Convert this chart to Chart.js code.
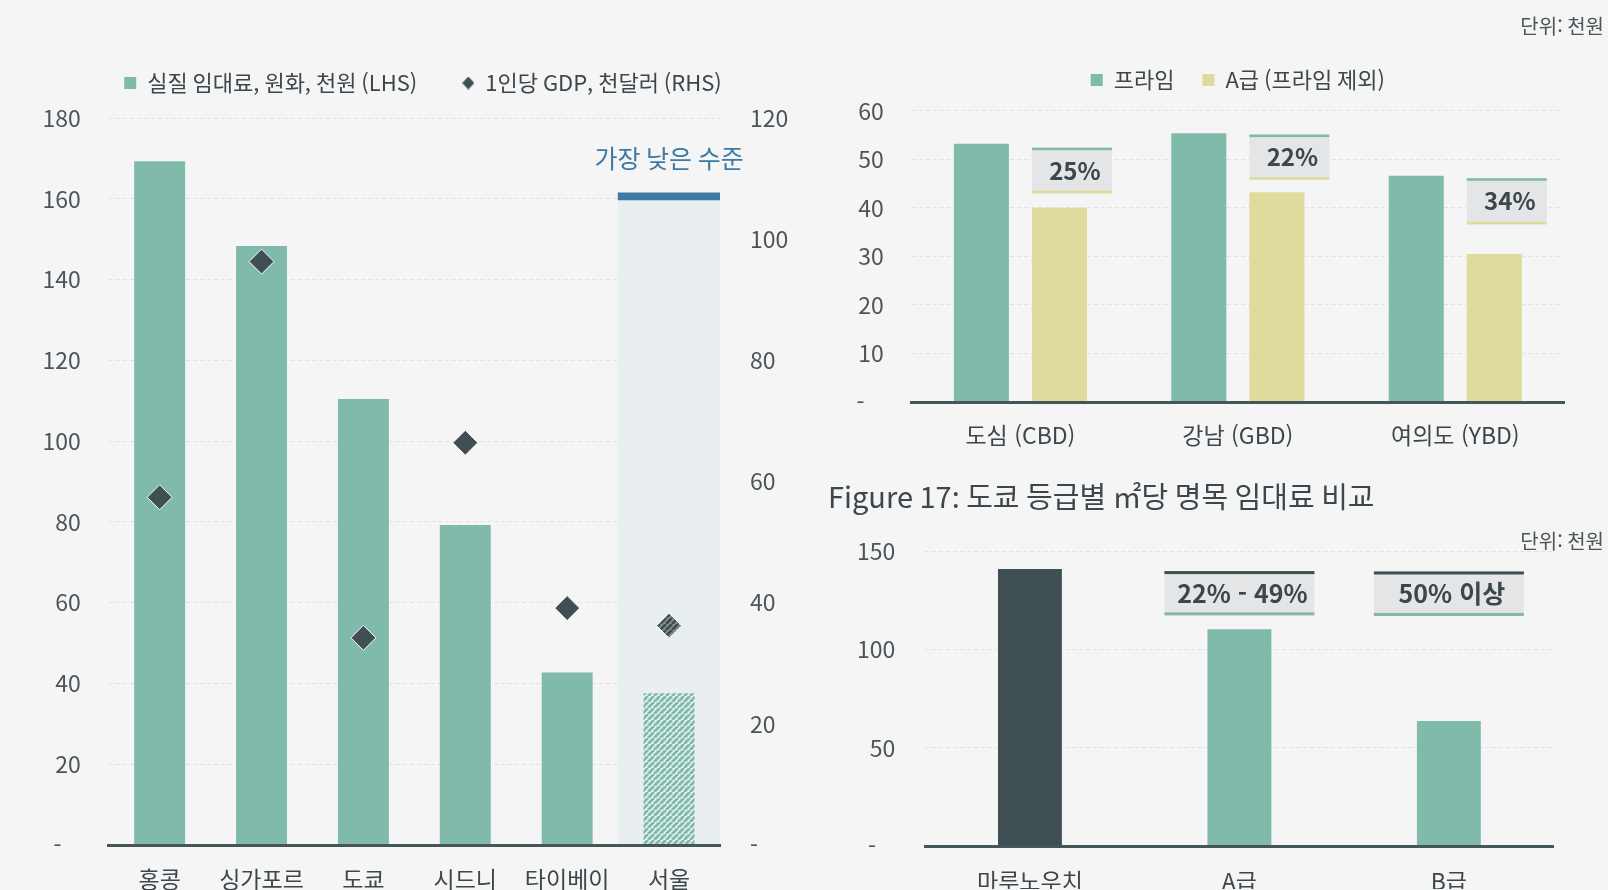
<!DOCTYPE html>
<html lang="ko">
<head>
<meta charset="utf-8">
<script src="https://cdn.jsdelivr.net/npm/chart.js@4.4.1/dist/chart.umd.min.js"></script>
<style>
  html, body { margin: 0; padding: 0; background: #f5f5f5; }
  body { width: 1608px; height: 890px; position: relative; overflow: hidden; }
  .panel { position: absolute; }
</style>
</head>
<body>
<div class="panel" style="left:0;top:0;width:846px;height:890px"><canvas id="chartRent"></canvas></div>
<div class="panel" style="left:800px;top:0;width:808px;height:460px"><canvas id="chartSeoul"></canvas></div>
<div class="panel" style="left:800px;top:460px;width:808px;height:430px"><canvas id="chartTokyo"></canvas></div>
<script>
// 도시별 실질 임대료 / 1인당 GDP
const cities = ['홍콩', '싱가포르', '도쿄', '시드니', '타이베이', '서울'];
const realRent = [169.3, 148.3, 110.4, 79.2, 42.7, 37.6];
const gdpPerCapita = [57.4, 96.3, 34.2, 66.4, 39.1, 36.2];
const seoulBand = [null, null, null, null, null, [0, 159.7]];
const seoulCap = [null, null, null, null, null, [159.7, 161.5]];

// 서울 권역별 프라임 / A급
const districts = ['도심 (CBD)', '강남 (GBD)', '여의도 (YBD)'];
const primeRent = [53.2, 55.4, 46.6];
const gradeARent = [40.0, 43.2, 30.5];
const gapLabels = ['25%', '22%', '34%'];
const gapTop = [52.4, 55.1, 46.1];
const gapBottom = [43.0, 45.8, 36.6];

// 도쿄 등급별
const tokyoGrades = ['마루노우치', 'A급', 'B급'];
const tokyoRent = [140.8, 110.3, 63.6];
const tokyoGapLabels = [null, '22% - 49%', '50% 이상'];
const tokyoGapTop = [null, 139.8, 139.6];
const tokyoGapBottom = [null, 117.3, 117.0];

const TEAL = '#7fbaab';
const SAND = '#dfdb9d';
const SLATE = '#3f4f54';
const BLUE = '#3d7aa5';
const INK = '#3b474c';
const TICK = '#4b5559';
const GRID = '#e2e2e2';
const FONT = "'Noto Sans CJK KR', 'Noto Sans', sans-serif";

Chart.defaults.font.family = FONT;
Chart.defaults.color = TICK;
Chart.defaults.animation = false;

function stripes(ctx, fg, bg, size, width) {
    const c = document.createElement('canvas');
    c.width = size;
    c.height = size;
    const g = c.getContext('2d');
    g.fillStyle = bg;
    g.fillRect(0, 0, size, size);
    g.strokeStyle = fg;
    g.lineWidth = width;
    g.beginPath();
    for (let k = -1; k <= 1; k++) {
        g.moveTo(k * size, size);
        g.lineTo(k * size + size, 0);
    }
    g.stroke();
    return ctx.createPattern(c, 'repeat');
}

// little diamond for the legend
const legendDiamond = document.createElement('canvas');
legendDiamond.width = 12;
legendDiamond.height = 13;
(function (g) {
    g.fillStyle = SLATE;
    g.beginPath();
    g.moveTo(6, 0); g.lineTo(12, 6.5); g.lineTo(6, 13); g.lineTo(0, 6.5);
    g.closePath();
    g.fill();
})(legendDiamond.getContext('2d'));

function zeroDash(spaces) {
    return v => v === 0 ? '-' + spaces : v;
}

function unitNote(y) {
    return {
        id: 'unitNote',
        afterDraw(chart) {
            const c = chart.ctx;
            c.save();
            c.font = '20px ' + FONT;
            c.fillStyle = TICK;
            c.textAlign = 'right';
            c.textBaseline = 'middle';
            c.fillText('단위: 천원', chart.width - 4, y);
            c.restore();
        }
    };
}

function drawGapBox(chart, left, width, top, bottom, topColor, bottomColor, text, lw, size) {
    const c = chart.ctx;
    c.save();
    c.fillStyle = '#e4e5e6';
    c.fillRect(left, top, width, bottom - top);
    c.fillStyle = topColor;
    c.fillRect(left, top, width, lw);
    c.fillStyle = bottomColor;
    c.fillRect(left, bottom - lw, width, lw);
    c.font = 'bold ' + size + 'px ' + FONT;
    c.fillStyle = INK;
    c.textAlign = 'center';
    c.textBaseline = 'middle';
    c.fillText(text, left + width / 2 + 3, (top + bottom) / 2);
    c.restore();
}

// ---------- 왼쪽: 도시별 ----------
const rentCtx = document.getElementById('chartRent').getContext('2d');
const rentHatch = stripes(rentCtx, TEAL, '#eef4f2', 6, 3);
const gdpHatch = stripes(rentCtx, SLATE, '#8d979a', 6, 3);

const lowestNote = {
    id: 'lowestNote',
    afterDatasetsDraw(chart) {
        const c = chart.ctx;
        const x = chart.scales.x.getPixelForValue(5);
        const y = chart.scales.y.getPixelForValue(seoulCap[5][1]);
        c.save();
        c.font = '25px ' + FONT;
        c.fillStyle = BLUE;
        c.textAlign = 'center';
        c.textBaseline = 'middle';
        c.fillText('가장 낮은 수준', x, y - 34);
        c.restore();
    }
};

new Chart(rentCtx, {
    type: 'bar',
    data: {
        labels: cities,
        datasets: [{
            label: '실질 임대료, 원화, 천원 (LHS)',
            data: realRent,
            backgroundColor: [TEAL, TEAL, TEAL, TEAL, TEAL, rentHatch],
            barPercentage: 0.5,
            categoryPercentage: 1,
            grouped: false,
            order: 2
        }, {
            type: 'line',
            label: '1인당 GDP, 천달러 (RHS)',
            data: gdpPerCapita,
            yAxisID: 'y1',
            showLine: false,
            pointStyle: 'rectRot',
            pointRadius: 12.5,
            pointHoverRadius: 12.5,
            pointBackgroundColor: [SLATE, SLATE, SLATE, SLATE, SLATE, gdpHatch],
            pointBorderColor: '#ffffff',
            pointBorderWidth: 1,
            order: 0
        }, {
            label: 'cap',
            data: seoulCap,
            backgroundColor: BLUE,
            barPercentage: 1,
            categoryPercentage: 1,
            grouped: false,
            order: 3
        }, {
            label: 'band',
            data: seoulBand,
            backgroundColor: '#e9eef1',
            barPercentage: 1,
            categoryPercentage: 1,
            grouped: false,
            order: 4
        }]
    },
    options: {
        responsive: true,
        maintainAspectRatio: false,
        layout: { padding: { top: 27, left: 0, right: 0, bottom: 0 } },
        plugins: {
            legend: {
                labels: {
                    usePointStyle: true,
                    boxWidth: 12,
                    boxHeight: 12,
                    padding: 45,
                    color: INK,
                    font: { size: 22 },
                    generateLabels(chart) {
                        const items = Chart.defaults.plugins.legend.labels.generateLabels(chart)
                            .filter(it => it.datasetIndex < 2)
                            .sort((a, b) => a.datasetIndex - b.datasetIndex);
                        items[0].pointStyle = 'rect';
                        items[0].fillStyle = TEAL;
                        items[0].lineWidth = 0;
                        items[1].pointStyle = legendDiamond;
                        return items;
                    }
                }
            },
            subtitle: {
                display: true,
                text: '',
                weight: 500,
                font: { size: 1, lineHeight: 1 },
                padding: { top: 0, bottom: 13 }
            },
            tooltip: { enabled: false }
        },
        scales: {
            x: {
                offset: true,
                grid: { display: false },
                border: { color: '#46555a', width: 3, z: 1 },
                ticks: { padding: 12, color: INK, font: { size: 23 } },
                afterFit: s => { s.height = 45; }
            },
            y: {
                min: 0,
                max: 180,
                grid: { color: GRID, drawTicks: false },
                border: { display: false, dash: [4, 3] },
                ticks: { stepSize: 20, padding: 28, font: { size: 23 }, callback: zeroDash('   ') },
                afterFit: s => { s.width = 108.7; }
            },
            y1: {
                position: 'right',
                min: 0,
                max: 120,
                grid: { display: false, drawTicks: false },
                border: { display: false },
                ticks: { stepSize: 20, padding: 30, font: { size: 23 }, callback: zeroDash('') },
                afterFit: s => { s.width = 126; }
            }
        }
    },
    plugins: [lowestNote]
});

// ---------- 오른쪽 위: 서울 ----------
const seoulGaps = {
    id: 'seoulGaps',
    afterDatasetsDraw(chart) {
        const y = chart.scales.y;
        const bars = chart.getDatasetMeta(1).data;
        gapLabels.forEach((t, i) => {
            const b = bars[i];
            drawGapBox(chart, b.x - b.width / 2, 80,
                y.getPixelForValue(gapTop[i]), y.getPixelForValue(gapBottom[i]),
                TEAL, SAND, t, 2.5, 24);
        });
    }
};

new Chart(document.getElementById('chartSeoul'), {
    type: 'bar',
    data: {
        labels: districts,
        datasets: [{
            label: '프라임',
            data: primeRent,
            backgroundColor: TEAL,
            categoryPercentage: 0.718,
            barPercentage: 0.705
        }, {
            label: 'A급 (프라임 제외)',
            data: gradeARent,
            backgroundColor: SAND,
            categoryPercentage: 0.718,
            barPercentage: 0.705
        }]
    },
    options: {
        responsive: true,
        maintainAspectRatio: false,
        layout: { padding: { top: 41, left: 0, right: 44, bottom: 0 } },
        plugins: {
            legend: {
                fullSize: false,
                labels: {
                    boxWidth: 12,
                    boxHeight: 12,
                    padding: 28,
                    color: INK,
                    font: { size: 22 }
                }
            },
            subtitle: {
                display: true,
                text: '',
                weight: 500,
                font: { size: 1, lineHeight: 1 },
                padding: { top: 0, bottom: 8.8 }
            },
            tooltip: { enabled: false }
        },
        scales: {
            x: {
                offset: true,
                grid: { display: false },
                border: { color: '#46555a', width: 3, z: 1 },
                ticks: { padding: 11, color: INK, font: { size: 23 } },
                afterFit: s => { s.height = 58; }
            },
            y: {
                min: 0,
                max: 60,
                grid: { color: GRID, drawTicks: false },
                border: { display: false, dash: [4, 3] },
                ticks: { stepSize: 10, padding: 28, font: { size: 23 }, callback: zeroDash('   ') },
                afterFit: s => { s.width = 111.7; }
            }
        }
    },
    plugins: [seoulGaps, unitNote(26.7)]
});

// ---------- 오른쪽 아래: 도쿄 ----------
const tokyoGaps = {
    id: 'tokyoGaps',
    afterDatasetsDraw(chart) {
        const x = chart.scales.x;
        const y = chart.scales.y;
        tokyoGapLabels.forEach((t, i) => {
            if (!t) return;
            const cx = x.getPixelForValue(i);
            drawGapBox(chart, cx - 75, 150,
                y.getPixelForValue(tokyoGapTop[i]), y.getPixelForValue(tokyoGapBottom[i]),
                SLATE, TEAL, t, 3, 25);
        });
    }
};

new Chart(document.getElementById('chartTokyo'), {
    type: 'bar',
    data: {
        labels: tokyoGrades,
        datasets: [{
            label: '명목 임대료',
            data: tokyoRent,
            backgroundColor: [SLATE, TEAL, TEAL],
            barPercentage: 0.305,
            categoryPercentage: 1
        }]
    },
    options: {
        responsive: true,
        maintainAspectRatio: false,
        layout: { padding: { top: 0, left: 28, right: 54.4, bottom: 0 } },
        plugins: {
            legend: { display: false },
            title: {
                display: true,
                text: 'Figure 17: 도쿄 등급별 ㎡당 명목 임대료 비교',
                align: 'start',
                color: INK,
                font: { size: 29, weight: 'normal' },
                padding: { top: 19.4, bottom: 36.8 }
            },
            tooltip: { enabled: false }
        },
        scales: {
            x: {
                offset: true,
                grid: { display: false },
                border: { color: '#46555a', width: 3, z: 1 },
                ticks: { padding: 13, color: INK, font: { size: 23 } },
                afterFit: s => { s.height = 42.7; }
            },
            y: {
                min: 0,
                max: 150,
                grid: { color: GRID, drawTicks: false },
                border: { display: false, dash: [4, 3] },
                ticks: { stepSize: 50, padding: 30, font: { size: 23 }, callback: zeroDash('   ') },
                afterFit: s => { s.width = 97.2; }
            }
        }
    },
    plugins: [tokyoGaps, unitNote(81.7)]
});
</script>
</body>
</html>
